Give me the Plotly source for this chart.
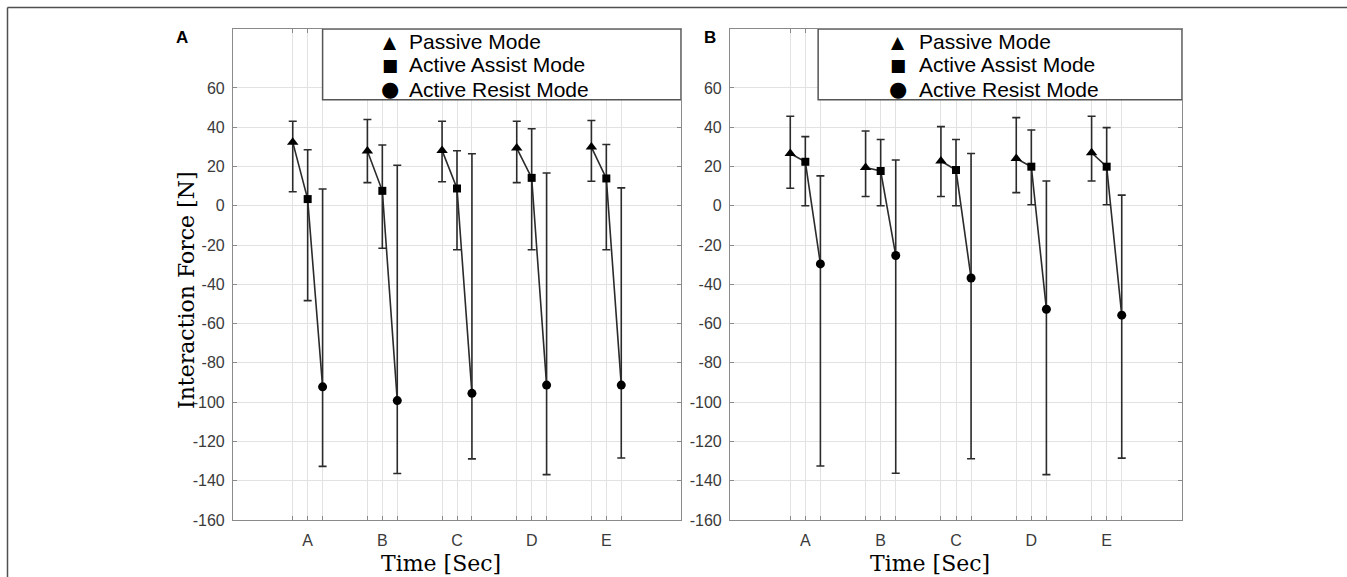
import plotly.graph_objects as go

# ---------------- data ----------------
times = ["A", "B", "C", "D", "E"]
modes = ["Passive Mode", "Active Assist Mode", "Active Resist Mode"]
y_ticks = [-160, -140, -120, -100, -80, -60, -40, -20, 0, 20, 40, 60]
y_ticktext = ["-160", "-140", "-120", "-100", "-80", "-60", "-40", "-20", "0", "20", "40", "60"]

# Panel A
passive_mean_A = [32.4, 27.9, 28.2, 29.4, 29.9]
passive_hi_A = [43.0, 43.9, 43.0, 43.0, 43.4]
passive_lo_A = [7.1, 11.8, 12.2, 11.8, 12.5]
assist_mean_A = [3.4, 7.6, 8.8, 14.2, 13.9]
assist_hi_A = [28.5, 30.9, 28.0, 39.2, 31.2]
assist_lo_A = [-48.3, -21.6, -22.4, -22.4, -22.4]
resist_mean_A = [-92.2, -99.2, -95.5, -91.3, -91.3]
resist_hi_A = [8.5, 20.6, 26.5, 16.7, 9.1]
resist_lo_A = [-132.7, -136.3, -128.9, -136.9, -128.4]

# Panel B
passive_mean_B = [26.6, 19.5, 22.8, 24.1, 27.0]
passive_hi_B = [45.6, 38.1, 40.3, 44.9, 45.6]
passive_lo_B = [8.9, 4.7, 4.7, 6.7, 12.6]
assist_mean_B = [22.4, 17.7, 18.2, 19.9, 19.9]
assist_hi_B = [35.2, 33.7, 33.7, 38.6, 39.8]
assist_lo_B = [0.0, 0.0, 0.0, 0.5, 0.5]
resist_mean_B = [-29.6, -25.3, -36.8, -52.7, -55.7]
resist_hi_B = [15.2, 23.3, 26.6, 12.6, 5.4]
resist_lo_B = [-132.5, -136.2, -128.8, -136.9, -128.5]

# ---------------- styling ----------------
W, H = 1347, 577
DARK = "#2b2b2b"
GRID = "#e2e2e2"
AXIS = "#8a8a8a"
TICKFONT = dict(family="Liberation Sans Narrow, Arial Narrow, Liberation Sans, Arial", size=16, color="#3a3a3a")
SERIF = "DejaVu Serif, Liberation Serif, serif"
SANS = "Liberation Sans, Arial, sans-serif"
offsets = [-0.2, 0.0, 0.2]
symbols = ["triangle-up", "square", "circle"]
msizes = [10, 8, 9]


def px_x(p):
    return p / W


def px_y(p):
    return 1 - p / H


fig = go.Figure()

panels = [
    ("x", "y", [
        (passive_mean_A, passive_hi_A, passive_lo_A),
        (assist_mean_A, assist_hi_A, assist_lo_A),
        (resist_mean_A, resist_hi_A, resist_lo_A),
    ]),
    ("x2", "y2", [
        (passive_mean_B, passive_hi_B, passive_lo_B),
        (assist_mean_B, assist_hi_B, assist_lo_B),
        (resist_mean_B, resist_hi_B, resist_lo_B),
    ]),
]

for xa, ya, series in panels:
    # connecting lines within each time group
    lx, ly = [], []
    for i in range(len(times)):
        for k in range(3):
            lx.append(i + 1 + offsets[k])
            ly.append(series[k][0][i])
        lx.append(None)
        ly.append(None)
    fig.add_trace(go.Scatter(x=lx, y=ly, mode="lines", xaxis=xa, yaxis=ya,
                             line=dict(color=DARK, width=1.6), showlegend=False,
                             hoverinfo="skip"))
    for k, (mean, hi, lo) in enumerate(series):
        xs = [i + 1 + offsets[k] for i in range(len(times))]
        fig.add_trace(go.Scatter(
            x=xs, y=mean, mode="markers", xaxis=xa, yaxis=ya, name=modes[k],
            marker=dict(symbol=symbols[k], size=msizes[k], color="black"),
            error_y=dict(type="data", symmetric=False,
                         array=[h - m for h, m in zip(hi, mean)],
                         arrayminus=[m - l for m, l in zip(mean, lo)],
                         color=DARK, thickness=1.6, width=4),
            showlegend=False))

# tick positions
tickvals = []
ticktext = []
for i, t in enumerate(times):
    for k in range(3):
        tickvals.append(i + 1 + offsets[k])
        ticktext.append(t if k == 1 else "")

xcommon = dict(range=[0, 6], tickvals=tickvals, ticktext=ticktext, showgrid=True,
               gridcolor=GRID, gridwidth=1, showline=True, linecolor=AXIS, linewidth=1.2,
               mirror="ticks", ticks="inside", ticklen=4, tickcolor=AXIS,
               tickfont=TICKFONT, ticklabelstandoff=6, zeroline=False, fixedrange=True)
ycommon = dict(range=[-160, 90], tickvals=y_ticks, ticktext=y_ticktext, showgrid=True,
               gridcolor=GRID, gridwidth=1, showline=True, linecolor=AXIS, linewidth=1.2,
               mirror="ticks", ticks="inside", ticklen=4, tickcolor=AXIS,
               tickfont=TICKFONT, ticklabelstandoff=4, zeroline=False, fixedrange=True)

ydom = [px_y(520), px_y(29)]
fig.update_layout(
    width=W, height=H,
    margin=dict(l=0, r=0, t=0, b=0, autoexpand=False),
    paper_bgcolor="white", plot_bgcolor="white",
    xaxis=dict(domain=[px_x(233), px_x(681)], anchor="y", **xcommon),
    yaxis=dict(domain=ydom, anchor="x", **ycommon),
    xaxis2=dict(domain=[px_x(730), px_x(1182)], anchor="y2", **xcommon),
    yaxis2=dict(domain=ydom, anchor="x2", **ycommon),
    showlegend=False,
)

shapes = []
# outer frame lines (top and left)
shapes.append(dict(type="line", xref="paper", yref="paper", x0=px_x(7.5), x1=1,
                   y0=px_y(7.5), y1=px_y(7.5), line=dict(color="#505050", width=1.5)))
shapes.append(dict(type="line", xref="paper", yref="paper", x0=px_x(7.5), x1=px_x(7.5),
                   y0=0, y1=px_y(7.5), line=dict(color="#505050", width=1.5)))
# legend boxes
for xr, yr, x0 in [("x", "y", 1.2), ("x2", "y2", 1.17)]:
    shapes.append(dict(type="rect", xref=xr, yref=yr, x0=x0, x1=6, y0=54, y1=90,
                       fillcolor="white", line=dict(color="#555555", width=1.5),
                       layer="above"))
fig.update_layout(shapes=shapes)


def ann(text, x, y, font, xanchor="center", yanchor="middle", **kw):
    return dict(text=text, x=px_x(x), y=px_y(y), xref="paper", yref="paper",
                showarrow=False, xanchor=xanchor, yanchor=yanchor, font=font, **kw)


annotations = []
# panel letters
annotations.append(ann("<b>A</b>", 182, 37, dict(family=SANS, size=17, color="black")))
annotations.append(ann("<b>B</b>", 710, 37, dict(family=SANS, size=17, color="black")))
# axis titles
for cx in [441, 930]:
    annotations.append(ann("Time [Sec]", cx, 563, dict(family=SERIF, size=22, color="black")))
annotations.append(ann("Interaction Force [N]", 186, 290,
                       dict(family=SERIF, size=22, color="black"), textangle=-90))
# legend contents
sym_chars = ["\u25B2", "\u25A0", "\u25CF"]
sym_sizes = [17, 17, 21]
rows = [41.5, 65, 89]
for sx, tx in [(390, 407), (898, 917)]:
    for k in range(3):
        annotations.append(ann(sym_chars[k], sx, rows[k],
                               dict(family="DejaVu Sans", size=sym_sizes[k], color="black")))
        annotations.append(ann(modes[k], tx, rows[k], dict(family=SANS, size=21, color="black"),
                               xanchor="left"))
fig.update_layout(annotations=annotations)

fig.write_html("out.html", config={"displayModeBar": False},
               post_script="document.body.style.margin='0';document.body.style.overflow='hidden';")
